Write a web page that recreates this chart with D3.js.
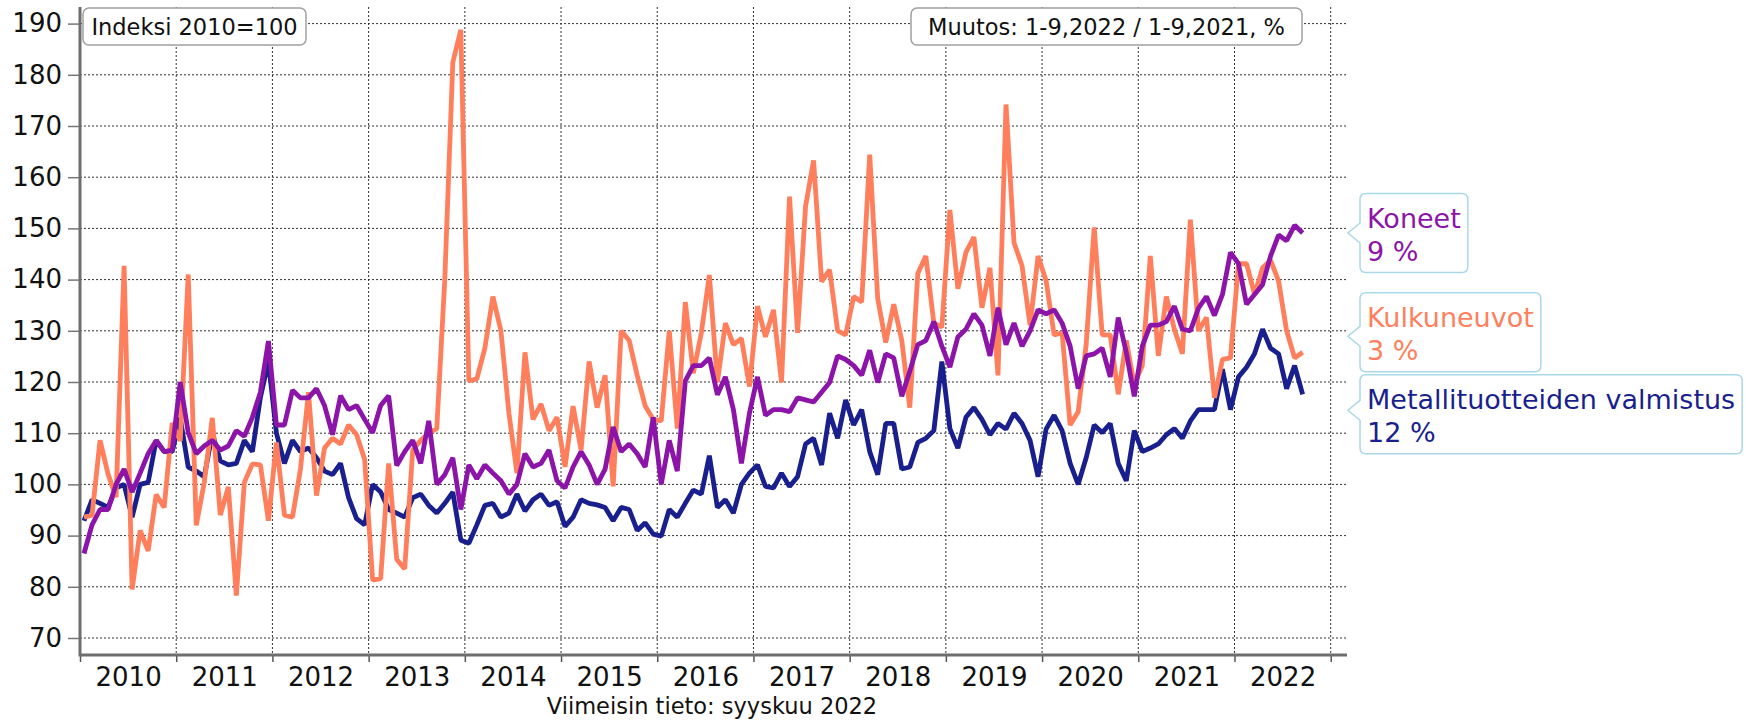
<!DOCTYPE html>
<html>
<head>
<meta charset="utf-8">
<script src="https://cdn.jsdelivr.net/npm/d3@7"></script>
<style>
  body { margin: 0; background: #fff; }
  svg { display: block; font-family: "DejaVu Sans", Verdana, sans-serif; }
</style>
</head>
<body>
<script>
// monthly index values, Jan 2010 .. Sep 2022
const years = [2010, 2011, 2012, 2013, 2014, 2015, 2016, 2017, 2018, 2019, 2020, 2021, 2022];
const yTicks = [70, 80, 90, 100, 110, 120, 130, 140, 150, 160, 170, 180, 190];

const koneet = [
  86.5, 92.1, 95.1, 95.1, 100, 103, 98.5, 102.2, 106, 108.6, 106.4, 106.7,
  120, 110.1, 106, 107.5, 108.6, 106.7, 107.5, 110.5, 109.4, 113.1, 118, 128,
  111.6, 111.6, 118.4, 116.9, 116.9, 118.7, 115.4, 109.7, 117.3, 114.6, 115.4, 112.7,
  110.1, 115.4, 117.3, 103.7, 106.4, 108.6, 104.1, 112.4, 100, 101.9, 105.2, 95.1,
  103.8, 101.1, 103.8, 102.2, 100.7, 98.1, 100, 106, 103.4, 104.1, 106.7, 100.7,
  99.3, 103.4, 106.4, 103.8, 100, 103, 111.2, 106.4, 107.9, 106, 103.4, 113.1,
  100, 108.6, 102.6, 120.2, 123.2, 123.2, 124.7, 117.5, 121, 114.6, 104.1, 113.9,
  121, 113.5, 114.6, 114.6, 114.2, 116.9, 116.5, 116.1, 118, 119.9, 125.1, 124.4,
  123.2, 121.3, 126.2, 119.9, 125.5, 124.7, 117.2, 122.1, 127.3, 128.1, 131.8, 127,
  122.9, 128.8, 130.3, 133.3, 131.1, 125.1, 134.5, 127.3, 131.5, 127, 130, 134.1,
  133.3, 134.1, 131.5, 127, 118.7, 125.1, 125.5, 126.6, 121, 132.6, 125.8, 117.2,
  127, 131.1, 131.1, 131.8, 134.8, 130.3, 130, 134.4, 136.7, 133, 137.1, 145.3,
  143.1, 135.2, 137.1, 139, 144.6, 148.7, 147.6, 150.6, 149.1
];

const kulkuneuvot = [
  93.6, 94, 108.6, 102, 97.5, 142.7, 79.5, 91, 87, 98, 95.5, 112,
  108.5, 141, 92, 100.4, 113, 94, 99.5, 78.3, 100.4, 104, 103.8, 92.9,
  108.2, 94, 93.6, 103, 118, 97.8, 107.1, 109, 107.9, 111.6, 109.7, 104.9,
  81.3, 81.6, 104.1, 85.4, 83.5, 106.7, 108.6, 110, 110.9, 140, 182.4, 188.8,
  120.2, 120.6, 126.6, 136.7, 130, 113.9, 102.2, 125.8, 112.7, 115.7, 110.5, 113.1,
  103.4, 115.3, 106.7, 124, 115, 121.3, 99.6, 130, 128.1, 121.3, 115.3, 112.7,
  112.4, 130, 110.9, 135.6, 121.7, 129.6, 140.9, 119.9, 131.5, 127.3, 128.5, 119.1,
  134.8, 128.8, 134.1, 119.9, 156.2, 129.6, 154.3, 163.3, 139.6, 141.9, 130, 129.2,
  136.7, 135.6, 164.4, 136.3, 127.7, 135.2, 128.1, 115, 141.2, 144.6, 131.5, 130.7,
  153.6, 138.2, 145.3, 148.3, 134.5, 142.3, 121.3, 174.2, 147.2, 142.7, 131.1, 144.6,
  139.8, 129.2, 129.6, 111.6, 114.2, 127.3, 150.2, 129.2, 129.2, 117.6, 128.1, 119.5,
  123.2, 144.6, 125.1, 136.7, 130.3, 125.5, 151.7, 130, 132.6, 116.9, 124.4, 124.7,
  143.1, 143.1, 137.1, 142.3, 143.8, 139.7, 130, 124.7, 125.8
];

const metalli = [
  92.9, 97, 96.3, 95.5, 99.3, 100, 93.6, 100, 100.4, 108.6, 106.4, 106.4,
  113, 103.4, 102.6, 101.5, 110, 104.6, 103.8, 104.1, 108.6, 106.4, 117, 124,
  110, 104.1, 108.6, 106.4, 107.1, 105.2, 102.6, 101.9, 104.1, 97.4, 93.3, 92.1,
  100, 98.5, 95.1, 94.4, 93.6, 97.4, 98.1, 95.9, 94.4, 96.3, 98.5, 89.1,
  88.5, 92.1, 95.9, 96.3, 93.6, 94.4, 98.1, 94.8, 97, 98.1, 95.9, 96.6,
  91.8, 93.6, 97, 96.3, 96, 95.5, 92.9, 95.5, 95.1, 91, 92.5, 90.3,
  89.9, 95.1, 93.6, 96.3, 98.9, 98.1, 105.6, 95.5, 97, 94.4, 100, 102.2,
  103.8, 99.6, 99.3, 102.2, 99.6, 101.5, 107.9, 109, 103.8, 113.9, 109, 116.5,
  111.6, 114.6, 106.4, 101.9, 111.9, 111.9, 103, 103.4, 108.2, 109, 110.5, 124,
  110.9, 107.1, 113.1, 115, 112.7, 109.7, 111.9, 110.8, 113.9, 111.9, 108.6, 101.5,
  110.8, 113.5, 110.5, 104.1, 100, 105.2, 111.6, 110.1, 111.9, 104.1, 100.7, 110.5,
  106.4, 107.1, 107.9, 109.7, 110.9, 109, 112.4, 114.6, 114.6, 114.6, 122.5, 114.6,
  121, 122.9, 125.5, 130.3, 126.6, 125.5, 118.7, 123.2, 117.6
];

const seriesNames = ["Metallituotteiden valmistus", "Kulkuneuvot", "Koneet"];
const seriesChanges = ["12 %", "3 %", "9 %"];
const seriesColors = ["#1a1f8e", "#ff7f5c", "#8c14a8"];

const indexNote = "Indeksi 2010=100";
const changeNote = "Muutos: 1-9,2022 / 1-9,2021, %";
const footerNote = "Viimeisin tieto: syyskuu 2022";

const width = 1746;
const height = 722;
const plot = { left: 80, right: 1347, top: 7, bottom: 655 };

const series = [metalli, kulkuneuvot, koneet].map((values, k) => ({
  name: seriesNames[k],
  change: seriesChanges[k],
  color: seriesColors[k],
  values: values,
}));

const svg = d3
  .select("body")
  .append("svg")
  .attr("width", width)
  .attr("height", height);

svg.append("rect").attr("width", width).attr("height", height).attr("fill", "#fff");

// month index scale, points sit in the middle of the month
const x = d3
  .scaleLinear()
  .domain([0, years.length * 12])
  .range([plot.left, 1330.7]);

const y = d3.scaleLinear().domain([70, 190]).range([638, 23.6]);

// grid
const grid = svg.append("g").attr("class", "grid");
grid
  .selectAll("line.h")
  .data(yTicks)
  .join("line")
  .attr("class", "h")
  .attr("x1", plot.left)
  .attr("x2", plot.right)
  .attr("y1", (d) => y(d))
  .attr("y2", (d) => y(d));
grid
  .selectAll("line.v")
  .data(d3.range(12, years.length * 12 + 1, 12))
  .join("line")
  .attr("class", "v")
  .attr("x1", (d) => x(d))
  .attr("x2", (d) => x(d))
  .attr("y1", plot.top)
  .attr("y2", plot.bottom);
grid
  .selectAll("line")
  .attr("stroke", "#333")
  .attr("stroke-width", 1)
  .attr("stroke-dasharray", "2,2");

// lines
const line = d3
  .line()
  .x((d, i) => x(i + 0.5))
  .y((d) => y(d));

svg
  .append("g")
  .selectAll("path")
  .data(series)
  .join("path")
  .attr("d", (d) => line(d.values))
  .attr("fill", "none")
  .attr("stroke", (d) => d.color)
  .attr("stroke-width", 4.8)
  .attr("stroke-linejoin", "bevel");

// y axis
const yAxis = svg
  .append("g")
  .attr("transform", `translate(${plot.left},0)`)
  .call(d3.axisLeft(y).tickValues(yTicks).tickSize(12).tickPadding(6));
yAxis.select(".domain").remove();
yAxis.selectAll("line").attr("stroke", "#777").attr("stroke-width", 1.5);
yAxis
  .selectAll("text")
  .attr("fill", "#111")
  .style("font-size", "26px")
  .style("font-family", "DejaVu Sans, Verdana, sans-serif");

// x axis: ticks at year boundaries, labels in the middle of the year
const xTicks = svg
  .append("g")
  .attr("transform", `translate(0,${plot.bottom})`)
  .call(
    d3
      .axisBottom(x)
      .tickValues(d3.range(0, years.length * 12 + 1, 12))
      .tickSize(7)
      .tickFormat("")
  );
xTicks.select(".domain").remove();
xTicks.selectAll("line").attr("stroke", "#555").attr("stroke-width", 1.5);

const xLabels = svg
  .append("g")
  .attr("transform", `translate(0,${plot.bottom})`)
  .call(
    d3
      .axisBottom(x)
      .tickValues(years.map((yr, k) => k * 12 + 6))
      .tickSize(0)
      .tickPadding(13)
      .tickFormat((d) => years[(d - 6) / 12])
  );
xLabels.select(".domain").remove();
xLabels
  .selectAll("text")
  .attr("fill", "#111")
  .style("font-size", "26px")
  .style("font-family", "DejaVu Sans, Verdana, sans-serif");

// axis lines
svg
  .append("line")
  .attr("x1", plot.left)
  .attr("x2", plot.left)
  .attr("y1", plot.top)
  .attr("y2", plot.bottom + 1.5)
  .attr("stroke", "#6e6e6e")
  .attr("stroke-width", 3);
svg
  .append("line")
  .attr("x1", plot.left)
  .attr("x2", plot.right)
  .attr("y1", plot.bottom)
  .attr("y2", plot.bottom)
  .attr("stroke", "#6e6e6e")
  .attr("stroke-width", 3);

// note boxes at the top
function noteBox(x0, y0, w, h, txt) {
  const g = svg.append("g");
  g.append("rect")
    .attr("x", x0)
    .attr("y", y0)
    .attr("width", w)
    .attr("height", h)
    .attr("rx", 6)
    .attr("fill", "#fff")
    .attr("stroke", "#a0a0a0")
    .attr("stroke-width", 1.5);
  g.append("text")
    .attr("x", x0 + w / 2)
    .attr("y", y0 + h / 2 + 8)
    .attr("text-anchor", "middle")
    .attr("fill", "#111")
    .style("font-size", "22.5px")
    .text(txt);
}
noteBox(83, 8, 223, 37, indexNote);
noteBox(911, 8, 391, 37, changeNote);

// footer
svg
  .append("text")
  .attr("x", 712)
  .attr("y", 714)
  .attr("text-anchor", "middle")
  .attr("fill", "#111")
  .style("font-size", "22.5px")
  .text(footerNote);

// end labels (speech bubbles), spread so they do not overlap
const boxH = 79;
const boxGap = 3;
const items = series
  .map((s) => ({ s: s, target: y(s.values[s.values.length - 1]) }))
  .sort((a, b) => a.target - b.target);
items.forEach((d) => (d.c = d.target));
for (let it = 0; it < 60; it++) {
  for (let j = 1; j < items.length; j++) {
    const a = items[j - 1];
    const b = items[j];
    const overlap = a.c + boxH / 2 + boxGap - (b.c - boxH / 2);
    if (overlap > 0) {
      a.c -= overlap / 2;
      b.c += overlap / 2;
    }
  }
}

const bx = 1360;
const tipX = 1348;
items.forEach((d) => {
  const g = svg.append("g");
  const t = d.c - boxH / 2;
  const ay = d.c + (d.target - d.c) * 0.2;
  const path = g.append("path");
  const t1 = g
    .append("text")
    .attr("x", bx + 7)
    .attr("y", t + 34)
    .attr("fill", d.s.color)
    .style("font-size", "27px")
    .text(d.s.name);
  g.append("text")
    .attr("x", bx + 7)
    .attr("y", t + 67)
    .attr("fill", d.s.color)
    .style("font-size", "27px")
    .text(d.s.change);
  const w = t1.node().getComputedTextLength() + 14;
  const r = 6;
  const b = t + boxH;
  path
    .attr(
      "d",
      `M${bx + r},${t} H${bx + w - r} Q${bx + w},${t} ${bx + w},${t + r} V${b - r} Q${bx + w},${b} ${bx + w - r},${b} H${bx + r} Q${bx},${b} ${bx},${b - r} V${ay + 10} L${tipX},${ay} L${bx},${ay - 10} V${t + r} Q${bx},${t} ${bx + r},${t} Z`
    )
    .attr("fill", "#fff")
    .attr("stroke", "#a9d9e8")
    .attr("stroke-width", 1.5);
});
</script>
</body>
</html>
